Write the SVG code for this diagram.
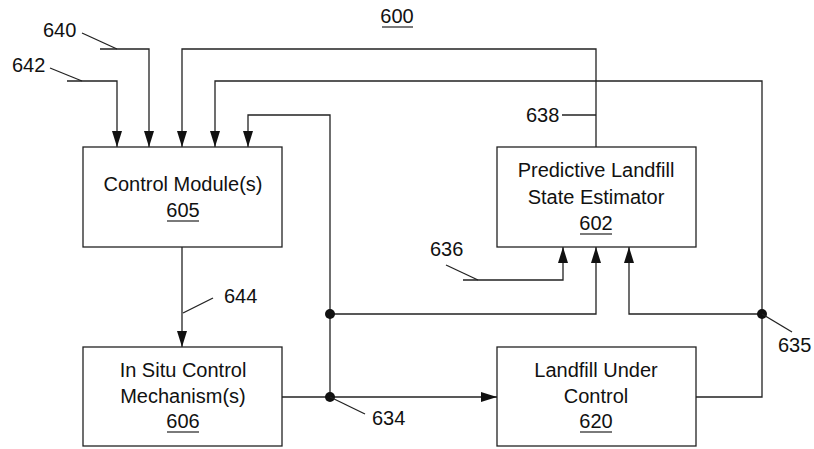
<svg xmlns="http://www.w3.org/2000/svg" width="814" height="449" viewBox="0 0 814 449">
<style>
text{font-family:"Liberation Sans",Arial,sans-serif;font-size:20px;fill:#111}
.c{text-anchor:middle}
.box{fill:#fff;stroke:#222;stroke-width:1.3}
.ln{fill:none;stroke:#222;stroke-width:1.3}
.arr{marker-end:url(#ah)}
.u{stroke:#222;stroke-width:1.2}
</style>
<defs>
<marker id="ah" markerUnits="userSpaceOnUse" markerWidth="18" markerHeight="12" refX="16" refY="6" orient="auto">
<path d="M0,1 L16,6 L0,11 Z" fill="#111"/>
</marker>
</defs>
<g id="title"><text class="c" x="397" y="23">600</text><line class="u" x1="382" y1="27" x2="413" y2="27"/></g>
<g id="connectors">
<polyline class="ln arr" points="100,49 149,49 149,147"/>
<polyline class="ln arr" points="67,81 117,81 117,147"/>
<polyline class="ln arr" points="596,147 596,49 182,49 182,147"/>
<polyline class="ln arr" points="762,314 762,81 215,81 215,147"/>
<polyline class="ln arr" points="330,397 330,115 248,115 248,147"/>
<polyline class="ln arr" points="182,247 182,347"/>
<polyline class="ln arr" points="282,397 497,397"/>
<polyline class="ln arr" points="463,280 563,280 563,247"/>
<polyline class="ln arr" points="330,314 596,314 596,247"/>
<polyline class="ln arr" points="762,314 629,314 629,247"/>
<polyline class="ln" points="696,397 762,397 762,314"/>
<circle cx="330" cy="314" r="5" fill="#111"/>
<circle cx="330" cy="397" r="5" fill="#111"/>
<circle cx="762" cy="314" r="5" fill="#111"/>
<line class="ln" x1="82" y1="33" x2="117" y2="49"/>
<line class="ln" x1="50" y1="68" x2="82" y2="81"/>
<line class="ln" x1="562" y1="115" x2="596" y2="115"/>
<line class="ln" x1="446" y1="265" x2="478" y2="280"/>
<line class="ln" x1="183" y1="313" x2="213" y2="298"/>
<line class="ln" x1="330" y1="397" x2="365" y2="414"/>
<line class="ln" x1="762" y1="314" x2="792" y2="332"/>
</g>
<g id="labels">
<text x="43" y="37">640</text>
<text x="12" y="72">642</text>
<text x="526" y="122">638</text>
<text x="430" y="256">636</text>
<text x="224" y="303">644</text>
<text x="372" y="425">634</text>
<text x="778" y="352">635</text>
</g>
<g id="n605">
<rect class="box" x="83" y="147" width="199" height="100"/>
<text class="c" x="183" y="191">Control Module(s)</text>
<text class="c" x="183" y="217">605</text><line class="u" x1="167" y1="221" x2="199" y2="221"/>
</g>
<g id="n602">
<rect class="box" x="497" y="147" width="199" height="100"/>
<text class="c" x="596" y="177">Predictive Landfill</text>
<text class="c" x="596" y="204">State Estimator</text>
<text class="c" x="596" y="230">602</text><line class="u" x1="580" y1="234" x2="612" y2="234"/>
</g>
<g id="n606">
<rect class="box" x="83" y="347" width="199" height="99"/>
<text class="c" x="183" y="377">In Situ Control</text>
<text class="c" x="183" y="403">Mechanism(s)</text>
<text class="c" x="183" y="428">606</text><line class="u" x1="167" y1="432" x2="199" y2="432"/>
</g>
<g id="n620">
<rect class="box" x="497" y="347" width="199" height="99"/>
<text class="c" x="596" y="377">Landfill Under</text>
<text class="c" x="596" y="403">Control</text>
<text class="c" x="596" y="428">620</text><line class="u" x1="580" y1="432" x2="612" y2="432"/>
</g>
</svg>
